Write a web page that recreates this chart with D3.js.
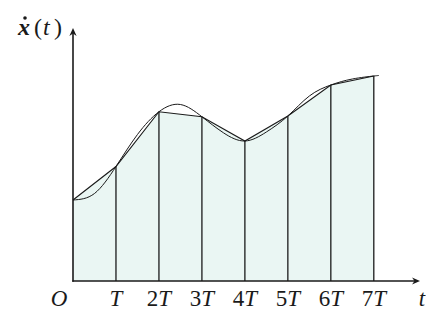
<!DOCTYPE html>
<html><head><meta charset="utf-8">
<script src="https://cdn.jsdelivr.net/npm/d3@7"></script>
<style>html,body{margin:0;padding:0;background:#fff;}svg{display:block;}</style>
</head><body>
<svg id="c" width="426" height="327"></svg>
<script>
// sample instants (multiples of T)
const sampleT = [0, 1, 2, 3, 4, 5, 6, 7];
const sampleV = [3.24, 4.58, 6.77, 6.57, 5.60, 6.60, 7.84, 8.20];
// underlying smooth signal (read at half steps)
const curveT = [0, 0.5, 1, 1.5, 2, 2.5, 3, 3.5, 4, 4.5, 5, 5.5, 6, 6.5, 7, 7.12];
const curveV = [3.24, 3.50, 4.58, 5.86, 6.77, 7.06, 6.57, 5.93, 5.60, 5.96, 6.60, 7.40, 7.84, 8.08, 8.20, 8.22];
const tickLabels = ["O", "T", "2T", "3T", "4T", "5T", "6T", "7T"];

const svg = d3.select("#c");
const x = d3.scaleLinear().domain([0, 7]).range([73, 373.8]);
const y = d3.scaleLinear().domain([0, 10]).range([281, 31]);
const ink = "#1a1a1a";

const samples = sampleT.map((t, i) => ({t, v: sampleV[i]}));
const curve = curveT.map((t, i) => ({t, v: curveV[i]}));

// filled area under the sampled polyline
svg.append("path")
  .datum(samples)
  .attr("d", d3.area().x(d => x(d.t)).y0(y(0)).y1(d => y(d.v)))
  .attr("fill", "#eaf6f3");

// vertical sample lines
svg.selectAll("line.s").data(samples.slice(1)).join("line")
  .attr("x1", d => x(d.t)).attr("x2", d => x(d.t))
  .attr("y1", y(0)).attr("y2", d => y(d.v))
  .attr("stroke", ink).attr("stroke-width", 1.3);

// sampled polyline
svg.append("path").datum(samples)
  .attr("d", d3.line().x(d => x(d.t)).y(d => y(d.v)))
  .attr("fill", "none").attr("stroke", ink).attr("stroke-width", 1.1);

// smooth curve
svg.append("path").datum(curve)
  .attr("d", d3.line().x(d => x(d.t)).y(d => y(d.v)).curve(d3.curveNatural))
  .attr("fill", "none").attr("stroke", ink).attr("stroke-width", 1.0);

// axes
const arrow = (tipX, tipY, dir) => {
  const L = 8, W = 3.6, b = 2.5;
  let p;
  if (dir === "r") p = `M${tipX},${tipY} L${tipX-L},${tipY-W} L${tipX-L+b},${tipY} L${tipX-L},${tipY+W} Z`;
  else p = `M${tipX},${tipY} L${tipX-W},${tipY+L} L${tipX},${tipY+L-b} L${tipX+W},${tipY+L} Z`;
  svg.append("path").attr("d", p).attr("fill", ink);
};
svg.append("line").attr("x1", 72.3).attr("x2", 415).attr("y1", y(0)).attr("y2", y(0))
  .attr("stroke", ink).attr("stroke-width", 1.6);
svg.append("line").attr("x1", x(0)).attr("x2", x(0)).attr("y1", y(0) + 0.8).attr("y2", 32)
  .attr("stroke", ink).attr("stroke-width", 1.6);
arrow(420, y(0), "r");
arrow(x(0), 28, "u");

// tick labels
const fontF = "'Liberation Serif', serif";
const lab = svg.append("g").attr("font-family", fontF).attr("font-size", 23).attr("fill", ink);
tickLabels.forEach((s, i) => {
  const t = lab.append("text").attr("y", 306).attr("text-anchor", "middle")
    .attr("x", i === 0 ? x(0) - 14 : x(sampleT[i]));
  const m = s.match(/^(\d*)(.*)$/);
  if (m[1]) t.append("tspan").text(m[1]);
  t.append("tspan").attr("font-style", "italic").text(m[2]);
});
lab.append("text").attr("x", 422).attr("y", 306).attr("text-anchor", "middle")
  .attr("font-style", "italic").text("t");

// y label  x-dot(t)
const yl = svg.append("g").attr("font-family", fontF).attr("font-size", 24).attr("fill", ink);
yl.append("text").attr("x", 18).attr("y", 35).attr("font-weight", "bold").attr("font-style", "italic").text("x");
yl.append("text").attr("x", 34).attr("y", 35).text("(");
yl.append("text").attr("x", 43).attr("y", 35).attr("font-style", "italic").text("t");
yl.append("text").attr("x", 54).attr("y", 35).text(")");
yl.append("circle").attr("cx", 25).attr("cy", 18).attr("r", 1.8);
</script>
</body></html>
